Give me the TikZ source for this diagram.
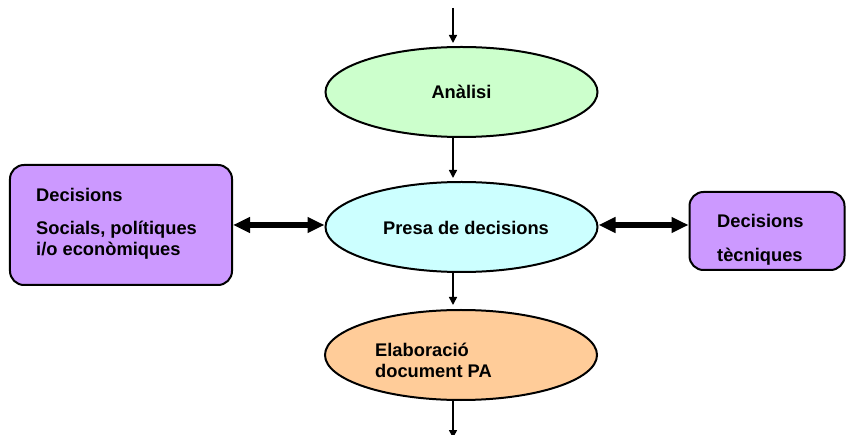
\documentclass[tikz,border=0pt]{standalone}
\usepackage{fontspec}
\setmainfont{Liberation Sans}
\usetikzlibrary{shapes.geometric,arrows.meta}
\definecolor{cgreen}{HTML}{CCFFCC}
\definecolor{ccyan}{HTML}{CCFFFF}
\definecolor{corange}{HTML}{FFCC99}
\definecolor{cpurple}{HTML}{CC99FF}
\begin{document}
\begin{tikzpicture}[x=1bp,y=-1bp,
  ell/.style={ellipse, draw, line width=2bp, minimum width=272bp, minimum height=90bp, inner sep=0pt, font=\bfseries\fontsize{18.3bp}{21.5bp}\selectfont},
  dbox/.style={draw, line width=2bp, rounded corners=14bp, fill=cpurple, inner sep=0pt},
  lbl/.style={font=\bfseries\fontsize{18.3bp}{21.5bp}\selectfont, inner sep=0pt, anchor=base west},
  flow/.style={line width=1.5bp, -{Triangle[length=8bp,width=8bp]}},
  dbl/.style={line width=5.5bp, {Triangle[length=17bp,width=15bp]}-{Triangle[length=17bp,width=15bp]}}]
\useasboundingbox (0,0) rectangle (846,435);
\fill[white] (0,0) rectangle (846,435);
% ellipses
\node[ell, fill=cgreen] (A) at (461.5,92) {Anàlisi};
\node[ell, fill=ccyan] (P) at (461.5,227) {};
\node[lbl, anchor=center] (Pt) at (466,228) {Presa de decisions};
\node[ell, fill=corange] (E) at (461,355) {};
\node[lbl] (E1) at (375,357) {Elaboració};
\node[lbl] (E2) at (375,378) {document PA};
% boxes
\node[dbox, minimum width=222bp, minimum height=120bp] (L) at (121,225) {};
\node[lbl] (L1) at (36,202) {Decisions};
\node[lbl] (L2) at (36,235) {Socials, polítiques};
\node[lbl] (L3) at (36,256) {i/o econòmiques};
\node[dbox, minimum width=155bp, minimum height=78bp] (R) at (767,231) {};
\node[lbl] (R1) at (717,228) {Decisions};
\node[lbl] (R2) at (717,262) {tècniques};
% flow arrows
\coordinate (top) at (453,8);
\coordinate (bot) at (453,438);
\draw[flow, shorten >=3bp] (top) -- (top |- A.north);
\draw[flow, shorten >=3bp] (A.south -| top) -- (P.north -| top);
\draw[flow, shorten >=4bp] (P.south -| top) -- (E.north -| top);
\draw[flow] (E.south -| top) -- (bot);
% double arrows
\draw[dbl] (L.east) -- (L.east -| P.west);
\draw[dbl] (P.east |- L.east) -- (R.west |- L.east);
\end{tikzpicture}
\end{document}
